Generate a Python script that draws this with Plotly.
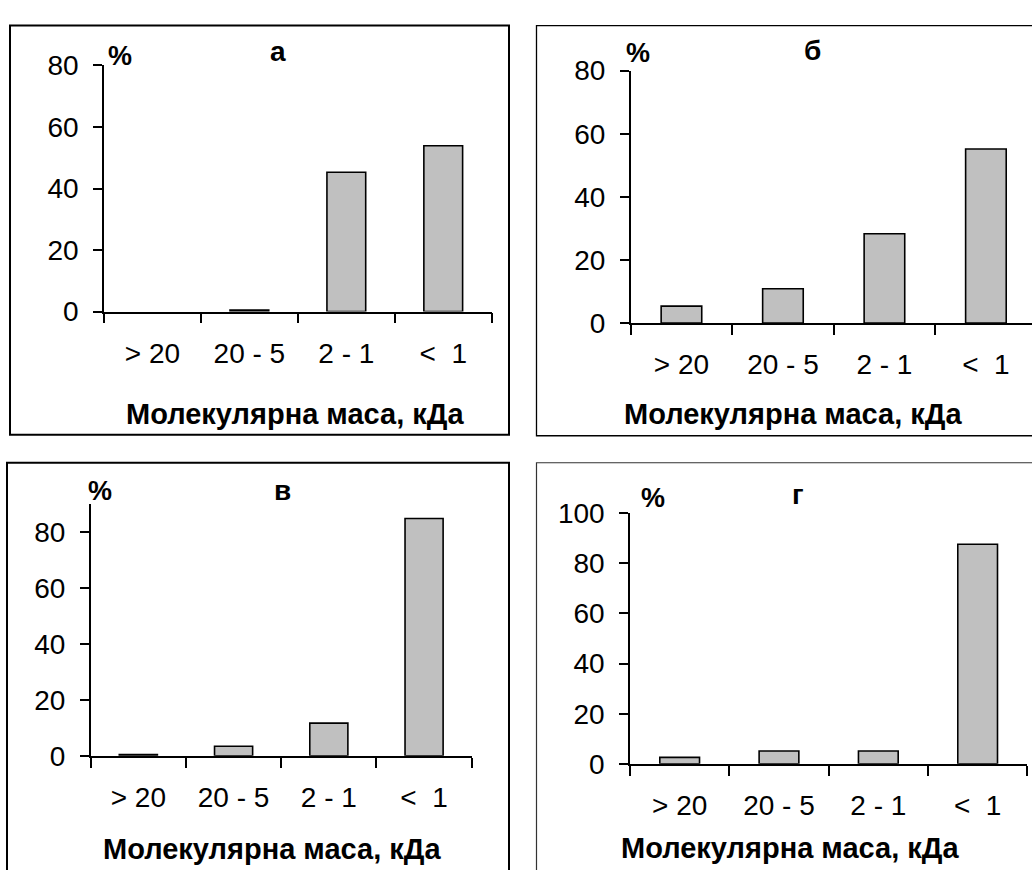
import plotly.graph_objects as go

categories = ["> 20", "20 - 5", "2 - 1", "<\u00a0\u00a01"]
values_a = [0.0, 0.5, 45.3, 53.9]
values_b = [5.4, 10.9, 28.3, 55.2]
values_v = [0.5, 3.4, 11.7, 84.8]
values_g = [2.6, 5.1, 5.1, 87.6]
panel_letters = ["а", "б", "в", "г"]
x_title = "Молекулярна маса, кДа"

W, H = 1032, 886
FONT = "Liberation Sans, Arial, sans-serif"


def px(x):
    return x / W


def py(y):
    return 1 - y / H


# panel geometry in pixels
panels = [
    dict(vals=values_a, x0=104, x1=491.7, yt=52.3, yb=307.3, ymax=80, xend=3.5,
         pct=(120, 42), let=(278, 38), title=(295, 413), ax="x", ay="y"),
    dict(vals=values_b, x0=630.7, x1=1032, yt=57.7, yb=319.3, ymax=80, xend=3.454,
         pct=(638, 39), let=(812, 37), title=(793, 413), ax="x2", ay="y2"),
    dict(vals=values_v, x0=90.7, x1=471.7, yt=506.7, yb=767.7, ymax=90, xend=3.5,
         pct=(100, 493), let=(282, 493), title=(272, 864), ax="x3", ay="y3"),
    dict(vals=values_g, x0=630, x1=1027.3, yt=516.3, yb=776, ymax=100, xend=3.5,
         pct=(653, 500), let=(798, 497), title=(790, 863), ax="x4", ay="y4"),
]

fig = go.Figure()
layout = dict(
    width=W, height=H, autosize=False,
    margin=dict(l=0, r=0, t=0, b=0, pad=0),
    paper_bgcolor="white", plot_bgcolor="white",
    showlegend=False, bargap=0.6,
    font=dict(family=FONT, color="black"),
)
annotations = []

for i, p in enumerate(panels):
    fig.add_trace(go.Bar(
        x=categories, y=p["vals"], xaxis=p["ax"], yaxis=p["ay"],
        marker=dict(color="#C0C0C0",
                    line=dict(color="black", width=[0 if v == 0 else 1.6 for v in p["vals"]])),
        hoverinfo="x+y",
    ))
    suffix = "" if i == 0 else str(i + 1)
    layout["xaxis" + suffix] = dict(
        domain=[px(p["x0"]), px(p["x1"])], anchor=p["ay"],
        type="category", range=[-0.5, p["xend"]],
        showline=True, linecolor="black", linewidth=1.5,
        ticks="outside", tickson="boundaries", ticklen=10, tickwidth=1.5, tickcolor="black",
        tickfont=dict(size=28, family=FONT, color="black"),
        ticklabelstandoff=16,
        showgrid=False, zeroline=False, fixedrange=True,
    )
    layout["yaxis" + suffix] = dict(
        domain=[py(p["yb"]), py(p["yt"])], anchor=p["ax"],
        range=[0, p["ymax"]], dtick=20, tick0=0,
        showline=True, linecolor="black", linewidth=1.5,
        ticks="outside", ticklen=9, tickwidth=1.5, tickcolor="black",
        tickfont=dict(size=28, family=FONT, color="black"),
        ticklabelstandoff=9,
        showgrid=False, zeroline=False, fixedrange=True,
    )
    annotations.append(dict(
        text="<b>%</b>", x=px(p["pct"][0]), y=py(p["pct"][1]), xref="paper", yref="paper",
        showarrow=False, xanchor="center", yanchor="middle",
        font=dict(size=27, family=FONT, color="black"),
    ))
    annotations.append(dict(
        text="<b>" + panel_letters[i] + "</b>", x=px(p["let"][0]), y=py(p["let"][1]),
        xref="paper", yref="paper", showarrow=False, xanchor="center", yanchor="middle",
        font=dict(size=28, family=FONT, color="black"),
    ))
    annotations.append(dict(
        text="<b>" + x_title + "</b>", x=px(p["title"][0]), y=py(p["title"][1]),
        xref="paper", yref="paper", showarrow=False, xanchor="center", yanchor="middle",
        font=dict(size=29, family=FONT, color="black"),
    ))


def frame_path(pts):
    return "M " + " L ".join(f"{px(x):.5f},{py(y):.5f}" for x, y in pts)


shapes = [
    # а: full rectangle
    dict(type="rect", xref="paper", yref="paper", x0=px(10), x1=px(509), y0=py(11), y1=py(435),
         line=dict(color="black", width=2), fillcolor="rgba(0,0,0,0)", layer="below"),
    # б: right side cut off by the image edge
    dict(type="path", xref="paper", yref="paper",
         path=frame_path([(W, 11), (536.5, 11), (536.5, 436), (W, 436)]),
         line=dict(color="black", width=1.3), layer="below"),
    # в: bottom cut off
    dict(type="path", xref="paper", yref="paper",
         path=frame_path([(7, H), (7, 464), (509, 464), (509, H)]),
         line=dict(color="black", width=2), layer="below"),
    # г: right and bottom cut off
    dict(type="path", xref="paper", yref="paper",
         path=frame_path([(536.5, H), (536.5, 464), (W, 464)]),
         line=dict(color="#333333", width=1.2), layer="below"),
]

layout["annotations"] = annotations
layout["shapes"] = shapes
fig.update_layout(**layout)
fig.write_html(
    "out.html",
    config={"displayModeBar": False},
    post_script="document.body.style.margin='0';document.documentElement.style.overflow='hidden';",
)
